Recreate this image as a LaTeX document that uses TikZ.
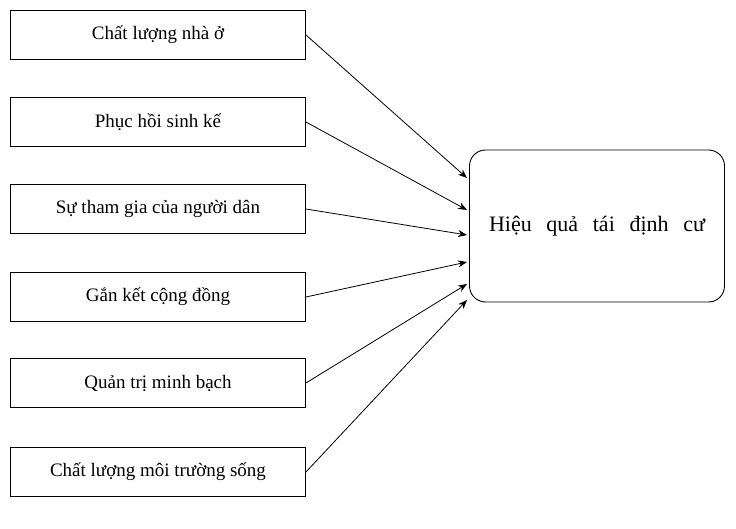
\documentclass[tikz,border=0pt]{standalone}
\usepackage{fontspec}
\setmainfont{Liberation Serif}
\usetikzlibrary{arrows.meta}
\begin{document}
\begin{tikzpicture}[x=1pt,y=-1pt,
 lb/.style={draw,line width=0.9pt,minimum width=295pt,minimum height=49pt,inner sep=0pt,font=\fontsize{19}{22}\selectfont},
 arr/.style={-{Stealth[length=9pt,width=7pt]},line width=0.8pt}]
\useasboundingbox (0,0) rectangle (736,529);
\node[lb] (a) at (158,35) {Chất lượng nhà ở};
\node[lb] (b) at (158,122) {Phục hồi sinh kế};
\node[lb] (c) at (158,209) {Sự tham gia của người dân};
\node[lb] (d) at (158,297) {Gắn kết cộng đồng};
\node[lb] (e) at (158,383) {Quản trị minh bạch};
\node[lb] (f) at (158,472) {Chất lượng môi trường sống};
\node[draw,line width=0.9pt,rounded corners=16pt,minimum width=255pt,minimum height=152pt,font=\fontsize{22}{26}\selectfont,text width=235pt,align=center] (h) at (597,226) {Hiệu\ \ quả\ \ tái\ \ định\ \ cư};
\coordinate (ha) at (467,178);
\coordinate (hb) at (467,210);
\coordinate (hc) at (467,235);
\coordinate (hd) at (467,262);
\coordinate (he) at (467,284);
\coordinate (hf) at (467,300);
\draw[arr] (a.east) -- (ha);
\draw[arr] (b.east) -- (hb);
\draw[arr] (c.east) -- (hc);
\draw[arr] (d.east) -- (hd);
\draw[arr] (e.east) -- (he);
\draw[arr] (f.east) -- (hf);
\end{tikzpicture}
\end{document}
